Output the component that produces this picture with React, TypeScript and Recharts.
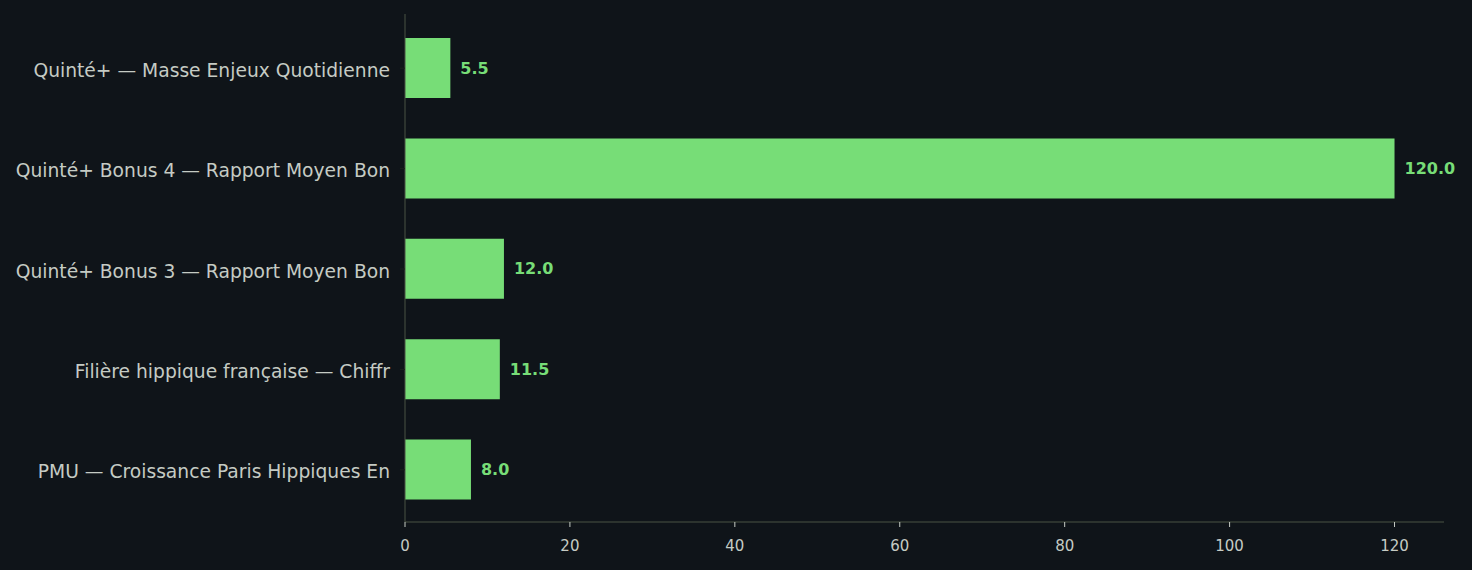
import { Bar, BarChart, LabelList, XAxis, YAxis } from 'recharts'

const categories = [
  'Quinté+ — Masse Enjeux Quotidienne',
  'Quinté+ Bonus 4 — Rapport Moyen Bon',
  'Quinté+ Bonus 3 — Rapport Moyen Bon',
  'Filière hippique française — Chiffr',
  'PMU — Croissance Paris Hippiques En',
]
const values = [5.5, 120.0, 12.0, 11.5, 8.0]
const xTicks = [0, 20, 40, 60, 80, 100, 120]

const data = categories.map((name, i) => ({ name, value: values[i] }))

const BG = '#0f1419'
const GREEN = '#77dd77'
const AXIS = '#4a5245'
const TEXT = '#c5cbc4'

export default function App() {
  return (
    <div style={{ position: 'fixed', left: 0, top: 0, width: 1472, height: 570, background: BG }}>
      <BarChart
        width={1472}
        height={570}
        data={data}
        layout="vertical"
        margin={{ top: 14, right: 28, bottom: 0, left: 0 }}
      >
        <XAxis
          type="number"
          domain={[0, 126]}
          ticks={xTicks}
          height={48}
          stroke={AXIS}
          tick={{ fill: TEXT, fontSize: 15, fontFamily: 'DejaVu Sans' }}
          tickLine={{ stroke: TEXT }}
          tickSize={5}
          tickMargin={13}
        />
        <YAxis
          type="category"
          dataKey="name"
          width={405}
          stroke={AXIS}
          padding={{ top: 4, bottom: 2 }}
          tick={{ fill: TEXT, fontSize: 18.7, fontFamily: 'DejaVu Sans', dy: 2 }}
          tickLine={{ stroke: '#1c211c' }}
          tickSize={5}
          tickMargin={10}
          interval={0}
        />
        <Bar dataKey="value" fill={GREEN} barSize={60} isAnimationActive={false}>
          <LabelList
            dataKey="value"
            position="right"
            offset={10}
            formatter={(v: any) => Number(v).toFixed(1)}
            style={{ fill: GREEN, fontSize: 16, fontWeight: 'bold', fontFamily: 'DejaVu Sans' }}
          />
        </Bar>
      </BarChart>
    </div>
  )
}
